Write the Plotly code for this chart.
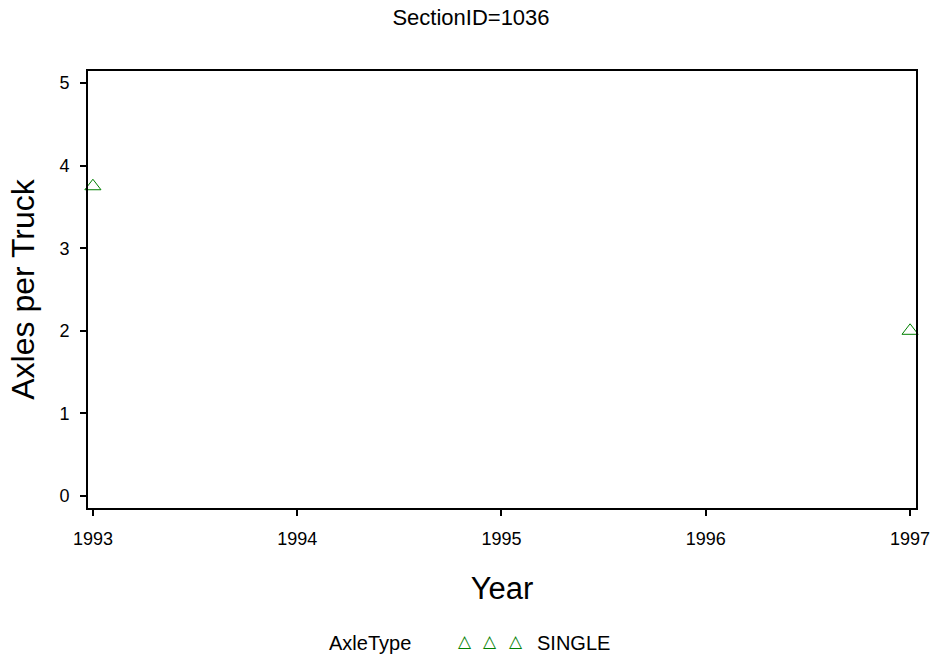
import plotly.graph_objects as go

years = [1993, 1997]
axles_per_truck = [3.75, 2.0]
series_name = "SINGLE"
legend_title = "AxleType"
x_ticks = [1993, 1994, 1995, 1996, 1997]
y_ticks = [0, 1, 2, 3, 4, 5]

FONT = "Liberation Sans, Arial, sans-serif"
GREEN = "#008000"

fig = go.Figure()
fig.add_trace(go.Scatter(
    x=years, y=axles_per_truck, mode="markers", name=series_name,
    marker=dict(symbol="triangle-up-open", size=14, color=GREEN, line=dict(width=1, color=GREEN)),
    cliponaxis=False, showlegend=False,
))

fig.update_layout(
    width=942, height=661,
    margin=dict(l=88, r=18, t=71, b=153),
    paper_bgcolor="white", plot_bgcolor="white",
    font=dict(family=FONT, color="black"),
    title=dict(text="SectionID=1036", x=0.5, xref="container", xanchor="center",
               y=1 - 17 / 661, yanchor="middle", font=dict(size=22, family=FONT)),
)

fig.update_xaxes(
    range=[1992.976, 1997.029], tickvals=x_ticks, ticktext=[str(v) for v in x_ticks],
    showgrid=False, zeroline=False, showline=True, linecolor="black", linewidth=2,
    mirror=True, ticks="outside", ticklen=6, tickwidth=2, tickcolor="black",
    ticklabelstandoff=7,
    tickfont=dict(size=18, family=FONT),
    title=dict(text="Year", font=dict(size=31, family=FONT), standoff=30),
)
fig.update_yaxes(
    range=[-0.145, 5.145], tickvals=y_ticks,
    showgrid=False, zeroline=False, showline=True, linecolor="black", linewidth=2,
    mirror=True, ticks="outside", ticklen=6, tickwidth=2, tickcolor="black",
    ticklabelstandoff=7,
    tickfont=dict(size=18, family=FONT),
    title=dict(text="Axles per Truck", font=dict(size=32, family=FONT), standoff=15),
)

# legend drawn below the plot area
fig.add_annotation(text=legend_title, xref="paper", yref="paper", x=0, y=0,
                   xanchor="center", yanchor="middle", xshift=370 - 88, yshift=-(643 - 508),
                   showarrow=False, font=dict(size=20, family=FONT, color="black"))
for px in [465, 490, 516]:
    fig.add_annotation(text="△", xref="paper", yref="paper", x=0, y=0,
                       xanchor="center", yanchor="middle", xshift=px - 88, yshift=-(641 - 508),
                       showarrow=False, font=dict(size=17, family="DejaVu Sans", color=GREEN))
fig.add_annotation(text=series_name, xref="paper", yref="paper", x=0, y=0,
                   xanchor="left", yanchor="middle", xshift=535 - 88, yshift=-(643 - 508),
                   showarrow=False, font=dict(size=20, family=FONT, color="black"))

fig.write_html("out.html", config={"displayModeBar": False},
               post_script="document.body.style.margin='0px';")
